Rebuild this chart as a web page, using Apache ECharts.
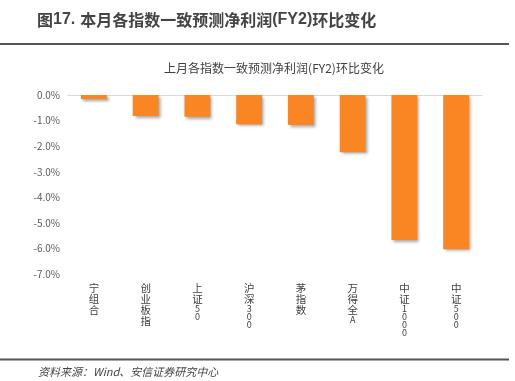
<!DOCTYPE html>
<html>
<head>
<meta charset="utf-8">
<script src="https://cdn.jsdelivr.net/npm/echarts@6/dist/echarts.min.js"></script>
<style>html,body{margin:0;padding:0;background:#fff;}#c{width:515px;height:381px;}</style>
</head>
<body>
<div id="c"></div>
<script>
const categories = ['宁组合', '创业板指', '上证50', '沪深300', '茅指数', '万得全A', '中证1000', '中证500'];
const values = [-0.16, -0.82, -0.85, -1.15, -1.17, -2.24, -5.67, -6.03];
const yTicks = { min: -7, max: 0, interval: 1 };

const FONT = '"Noto Sans CJK SC", "Noto Sans", sans-serif';
const chart = echarts.init(document.getElementById('c'), null, { renderer: 'canvas' });

function vertLabel(s) {
  const parts = [];
  for (const ch of s) {
    if (/[0-9A-Za-z]/.test(ch)) parts.push('{d|' + ch + '}');
    else parts.push('{c|' + ch + '}');
  }
  return parts.join('\n');
}

chart.setOption({
  animation: false,
  backgroundColor: '#fff',
  title: [
    {
      text: '{c|图}{b|17.} {c|本月各指数一致预测净利润}{b|(FY2)}{c|环比变化}',
      left: 32, top: 6,
      textStyle: {
        rich: {
          c: { fontFamily: FONT, fontSize: 16, color: '#444', fontWeight: 'bold' },
          b: { fontFamily: '"Liberation Sans", Arial, sans-serif', fontSize: 16, color: '#444', fontWeight: 'bold' }
        }
      }
    },
    {
      text: '上月各指数一致预测净利润(FY2)环比变化',
      left: 269, top: 57, textAlign: 'center',
      textStyle: { fontFamily: FONT, fontSize: 12, color: '#404040', fontWeight: 'normal' }
    },
    {
      text: '资料来源：Wind、安信证券研究中心',
      left: 33, top: 361,
      textStyle: { fontFamily: FONT, fontSize: 11, color: '#444', fontStyle: 'italic', fontWeight: 'normal' }
    }
  ],
  graphic: [
    { type: 'line', shape: { x1: 0, y1: 44, x2: 509, y2: 44 }, style: { stroke: '#555', lineWidth: 2 } },
    { type: 'line', shape: { x1: 0, y1: 359.5, x2: 509, y2: 359.5 }, style: { stroke: '#555', lineWidth: 2 } }
  ],
  grid: { left: 68, right: 33, top: 95, bottom: 107, containLabel: false },
  xAxis: [
    {
      type: 'category', data: categories, position: 'bottom',
      axisLine: { show: false }, axisTick: { show: false },
      axisLabel: {
        interval: 0, margin: 9, verticalAlign: 'top',
        formatter: vertLabel,
        rich: {
          c: { fontFamily: FONT, fontSize: 10.5, lineHeight: 11, color: '#404040' },
          d: { fontFamily: FONT, fontSize: 9, lineHeight: 8, color: '#404040' }
        }
      }
    },
    {
      type: 'category', data: categories, position: 'top',
      axisLine: { show: true, onZero: false, lineStyle: { color: '#d9d9d9', width: 1 } },
      axisTick: { show: false }, axisLabel: { show: false }
    }
  ],
  yAxis: {
    type: 'value', min: yTicks.min, max: yTicks.max, interval: yTicks.interval,
    axisLine: { show: false }, axisTick: { show: false }, splitLine: { show: false },
    axisLabel: {
      margin: 8, color: '#595959', fontFamily: FONT, fontSize: 10,
      formatter: v => v.toFixed(1) + '%'
    }
  },
  series: [{
    type: 'bar', data: values, xAxisIndex: 0, barWidth: '50%',
    itemStyle: {
      color: '#F98622',
      shadowColor: 'rgba(0,0,0,0.35)', shadowBlur: 3, shadowOffsetX: 2, shadowOffsetY: 2
    }
  }]
});
</script>
</body>
</html>
